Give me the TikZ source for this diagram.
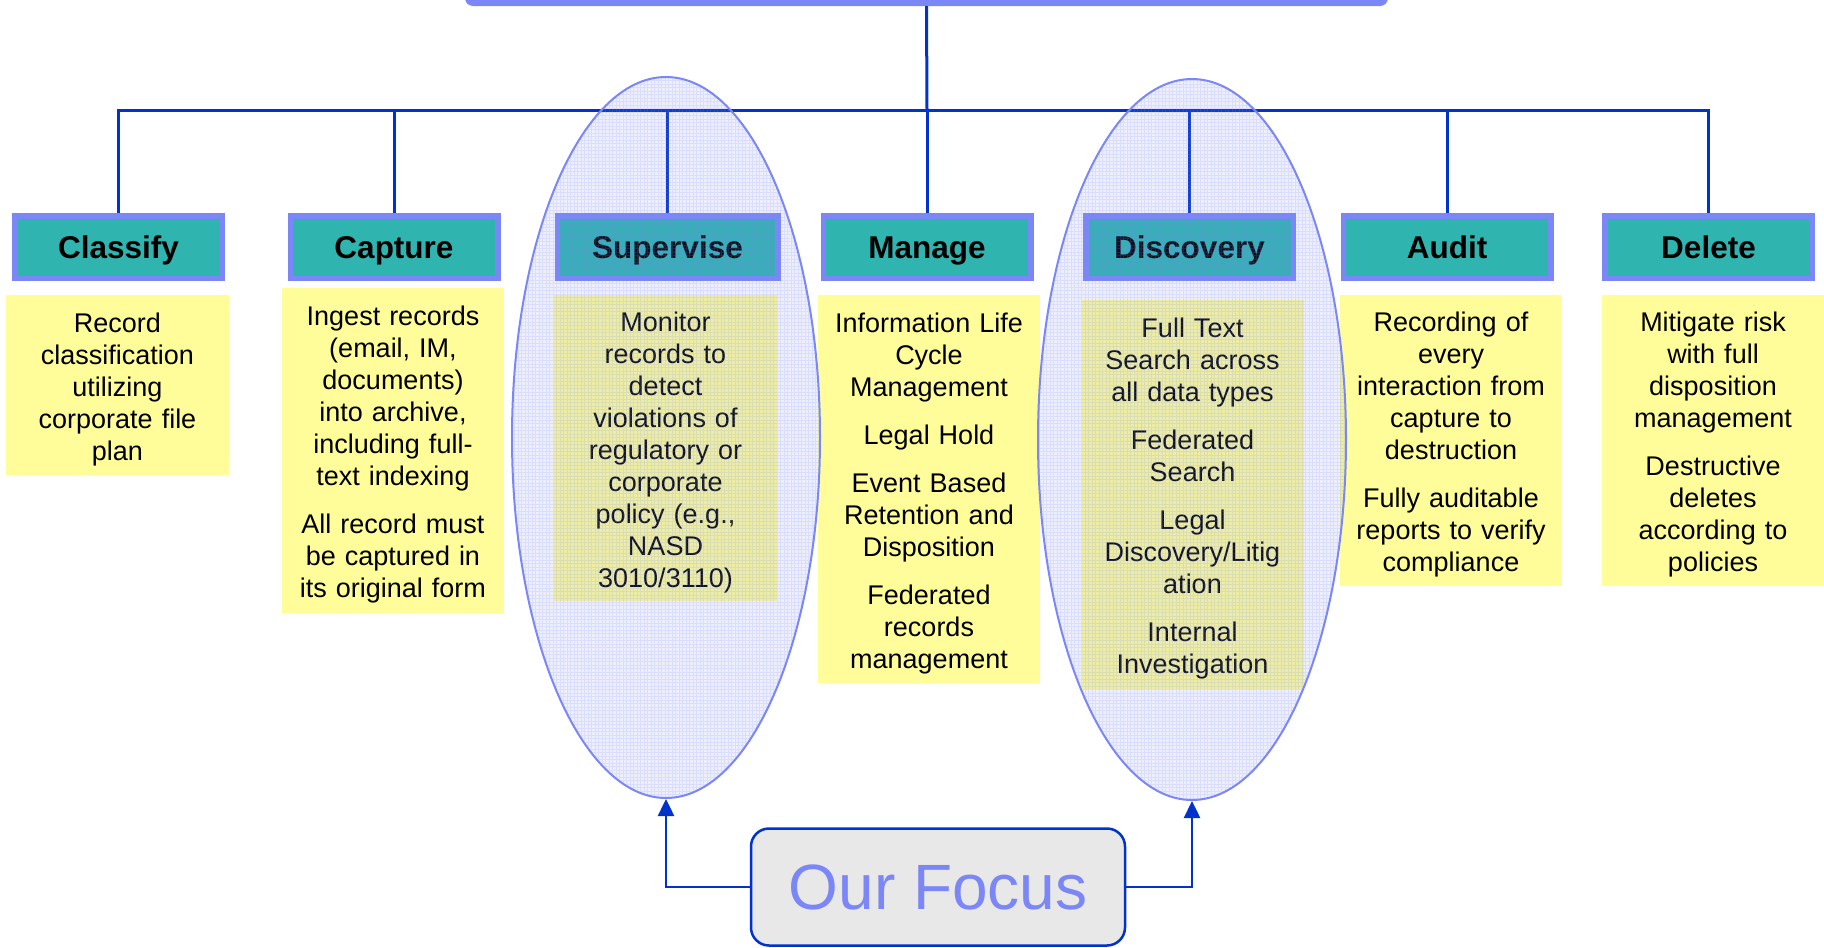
\documentclass[tikz,border=0pt]{standalone}
\usepackage{fontspec}
\setmainfont{Liberation Sans}
\usetikzlibrary{shapes.geometric,arrows.meta}
\definecolor{peri}{HTML}{7B87F7}
\definecolor{linkblue}{HTML}{0033CC}
\definecolor{tealbox}{HTML}{30B4B0}
\definecolor{yel}{HTML}{FFFD9A}
\definecolor{focusgray}{HTML}{E8E8E8}
\newcommand\hdfont{\bfseries\fontsize{31.5}{36}\selectfont}
\newcommand\bdfont{\fontsize{27}{32}\selectfont}
\newcommand\fcfont{\fontsize{64}{70}\selectfont}
\newcommand\topstrut{\rule{0pt}{28pt}}
\newcommand\botstrut{\rule[-6pt]{0pt}{6pt}}
\tikzset{
  headbox/.style={draw=peri, line width=5.5pt, fill=tealbox, minimum width=207.5pt,
    minimum height=62.5pt, inner sep=0pt, font=\hdfont, text height=22.6pt, text depth=0pt},
  bodybox/.style={fill=yel, inner sep=0pt, align=center, font=\bdfont, anchor=north},
  conn/.style={draw=linkblue, line width=3pt},
  focusell/.style={ellipse, draw=peri, line width=2pt, fill=peri, fill opacity=0.13,
    text opacity=1, minimum width=308pt, minimum height=721pt, inner sep=0pt},
  gridline/.style={draw=peri, line width=0.4pt, opacity=0.16},
  focusbox/.style={draw=linkblue, line width=2.5pt, fill=focusgray, rounded corners=18pt,
    minimum width=374pt, minimum height=117pt, inner sep=0pt, text=peri, font=\fcfont},
  arr/.style={draw=linkblue, line width=2.5pt, -{Triangle[width=16pt,length=17pt]}}
}
\begin{document}
\begin{tikzpicture}[x=1pt,y=-1pt]
\clip (0,0) rectangle (1824,948);
\fill[white] (0,0) rectangle (1824,948);
% top bar
\node[fill=peri, rounded corners=8pt, minimum width=923pt, minimum height=40pt, inner sep=0pt] (top) at (926.5,-14) {};
\coordinate (bus) at (927,110.5);
% headers
\node[headbox] (h1) at (118.5,247) {Classify};
\node[headbox] (h2) at (394,247) {Capture};
\node[headbox, minimum width=220.5pt] (h3) at (667.5,247) {Supervise};
\node[headbox] (h4) at (927,247) {Manage};
\node[headbox] (h5) at (1189.5,247) {Discovery};
\node[headbox] (h6) at (1447,247) {Audit};
\node[headbox] (h7) at (1708.5,247) {Delete};
% connectors
\draw[conn] (top.south) -- (bus);
\draw[conn] (h1.north) -- (h1.north |- bus) -- (h7.north |- bus) -- (h7.north);
\foreach \n in {h2,h3,h4,h5,h6} \draw[conn] (\n.north) -- (\n.north |- bus);
% bodies
\node[bodybox, text width=223pt, minimum height=180pt] (b1) at (117.5,295)
  {\topstrut Record\\classification\\utilizing\\corporate file\\plan\botstrut};
\node[bodybox, text width=222pt, minimum height=325pt] (b2) at (393,288)
  {\topstrut Ingest records\\(email, IM,\\documents)\\into archive,\\including full-\\text indexing\\[16pt]All record must\\be captured in\\its original form\botstrut};
\node[bodybox, text width=223pt, minimum height=306pt] (b3) at (665.5,295)
  {\topstrut Monitor\\records to\\detect\\violations of\\regulatory or\\corporate\\policy (e.g.,\\NASD\\3010/3110)\botstrut};
\node[bodybox, text width=222pt, minimum height=388pt] (b4) at (929,295)
  {\topstrut Information Life\\Cycle\\Management\\[16pt]Legal Hold\\[16pt]Event Based\\Retention and\\Disposition\\[16pt]Federated\\records\\management\botstrut};
\node[bodybox, text width=222pt, minimum height=389pt] (b5) at (1192.5,300)
  {\topstrut Full Text\\Search across\\all data types\\[16pt]Federated\\Search\\[16pt]Legal\\Discovery/Litig\\ation\\[16pt]Internal\\Investigation\botstrut};
\node[bodybox, text width=222pt, minimum height=291pt] (b6) at (1451,295)
  {\topstrut Recording of\\every\\interaction from\\capture to\\destruction\\[16pt]Fully auditable\\reports to verify\\compliance\botstrut};
\node[bodybox, text width=222pt, minimum height=291pt] (b7) at (1713,295)
  {\topstrut Mitigate risk\\with full\\disposition\\management\\[16pt]Destructive\\deletes\\according to\\policies\botstrut};
% focus ellipses: grid texture
\begin{scope}
  \clip (666,437.5) ellipse [x radius=154pt, y radius=360.5pt];
  \draw[gridline] (510,75) grid[step=3.5pt] (822,800);
\end{scope}
\begin{scope}
  \clip (1192,439.5) ellipse [x radius=154pt, y radius=360.5pt];
  \draw[gridline] (1036,77) grid[step=3.5pt] (1348,802);
\end{scope}
\node[focusell] (e1) at (666,437.5) {};
\node[focusell] (e2) at (1192,439.5) {};
% our focus
\node[focusbox] (focus) at (938,887) {Our Focus};
\draw[arr] (focus.west) -| (e1.south);
\draw[arr] (focus.east) -| (e2.south);
\end{tikzpicture}
\end{document}
